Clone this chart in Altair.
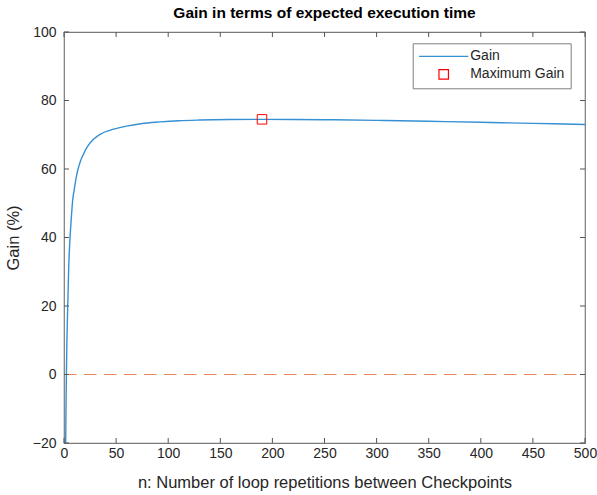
import altair as alt
import pandas as pd

# Gain curve
n_vals = [1.6, 2.0, 2.3, 2.8, 3.6, 4.5, 5.8, 7, 8.3, 10, 12, 13.5, 16, 18.5, 22, 28, 35,
          44, 60, 75, 92, 110, 130, 160, 190, 220, 250, 300, 350, 400, 450, 500]
gain_vals = [-20, -8, 0, 10, 20, 31, 40, 45.6, 50.8, 54.3, 58, 60, 62.5, 64.2, 66.3, 68.6,
             70.2, 71.3, 72.5, 73.3, 73.75, 74.1, 74.3, 74.45, 74.5, 74.47, 74.39, 74.19,
             73.93, 73.64, 73.33, 73.0]
max_n = [190]
max_gain = [74.5]
zero_n = [0, 500]
zero_gain = [0, 0]
x_ticks = [0, 50, 100, 150, 200, 250, 300, 350, 400, 450, 500]
y_ticks = [-20, 0, 20, 40, 60, 80, 100]
series_names = ["Gain", "Maximum Gain"]

FONT = "Liberation Sans"
TXT = "#262626"
BLUE = "#3590d4"
RED = "#ff0000"
ORANGE = "#e8875a"
TICK = "#555555"
TX = 5 / 1.042   # inward tick length in x units
TY = 5 / 3.42    # inward tick length in y units

curve = pd.DataFrame({"n": n_vals, "gain": gain_vals})
peak = pd.DataFrame({"n": max_n, "gain": max_gain, "series": "Maximum Gain"})
zero = pd.DataFrame({"n": zero_n, "gain": zero_gain})
xt = pd.DataFrame({"t": x_ticks})
yt = pd.DataFrame({"t": y_ticks})

xs = alt.Scale(domain=[0, 500], nice=False, zero=False)
ys = alt.Scale(domain=[-20, 100], nice=False, zero=False)

legend = alt.Legend(
    title=None, orient="none", legendX=348.7, legendY=11.3,
    labelFont=FONT, labelFontSize=14, labelColor=TXT,
    symbolSize=90, symbolOffset=18, labelOffset=19.5,
    symbolStrokeWidth=1.2,
    padding=6, rowPadding=3,
    strokeColor="#7f7f7f", fillColor="white",
)

line = alt.Chart(curve).mark_line(strokeWidth=1.4, interpolate="monotone", color=BLUE).encode(
    x=alt.X("n:Q", scale=xs, axis=alt.Axis(
        values=x_ticks, ticks=False, domain=False, grid=False, labelPadding=3,
        labelFlush=False,
        title="n: Number of loop repetitions between Checkpoints", titlePadding=14)),
    y=alt.Y("gain:Q", scale=ys, axis=alt.Axis(
        values=y_ticks, ticks=False, domain=False, grid=False, labelPadding=8,
        labelFlush=False,
        title="Gain (%)", titlePadding=11)),
)

pt = alt.Chart(peak).mark_point(filled=False, size=90, strokeWidth=1, opacity=1).encode(
    x="n:Q", y="gain:Q",
    color=alt.Color("series:N", scale=alt.Scale(domain=series_names, range=[BLUE, RED]),
                    legend=legend),
    shape=alt.Shape("series:N", scale=alt.Scale(domain=series_names,
                                                range=["M-5.2,0H5.2", "square"]),
                    legend=legend),
)

zline = alt.Chart(zero).mark_line(color=ORANGE, strokeWidth=1.2,
                                  strokeDash=[12.5, 7.5]).encode(x="n:Q", y="gain:Q")

t_bottom = alt.Chart(xt).mark_rule(color=TICK, strokeWidth=1).encode(
    x="t:Q", y=alt.datum(-20), y2=alt.datum(-20 + TY))
t_top = alt.Chart(xt).mark_rule(color=TICK, strokeWidth=1).encode(
    x="t:Q", y=alt.datum(100), y2=alt.datum(100 - TY))
t_left = alt.Chart(yt).mark_rule(color=TICK, strokeWidth=1).encode(
    y="t:Q", x=alt.datum(0), x2=alt.datum(TX))
t_right = alt.Chart(yt).mark_rule(color=TICK, strokeWidth=1).encode(
    y="t:Q", x=alt.datum(500), x2=alt.datum(500 - TX))

chart = alt.layer(zline, line, pt, t_bottom, t_top, t_left, t_right).properties(
    width=521, height=411,
    background="white",
    title=alt.Title("Gain in terms of expected execution time", font=FONT, fontSize=15.5,
                    fontWeight="bold", color="#000000", offset=4),
    autosize=alt.AutoSizeParams(type="none"),
    padding={"left": 64, "top": 32, "right": 12, "bottom": 52},
).configure_view(
    stroke="#7a7a7a", strokeWidth=1.2
).configure_axis(
    labelFont=FONT, labelFontSize=14, labelColor=TXT,
    titleFont=FONT, titleFontSize=16.5, titleColor=TXT, titleFontWeight="normal",
)

chart.save("out.html", embed_options={"renderer": "svg", "actions": False})
